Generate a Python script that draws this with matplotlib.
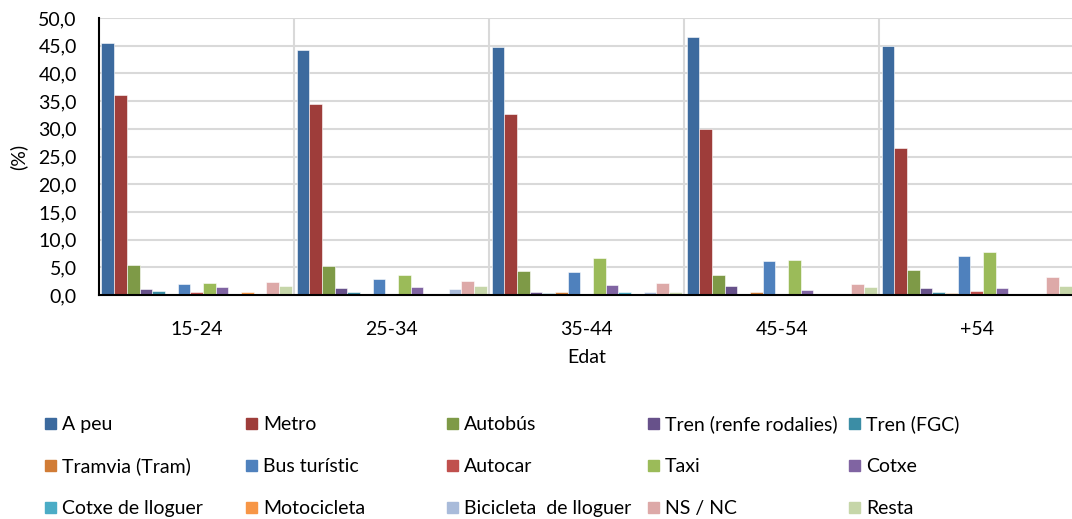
import numpy as np
import matplotlib
matplotlib.use("Agg")
import matplotlib.pyplot as plt
from matplotlib.patches import Rectangle

plt.rcParams['font.family'] = ['Lato', 'DejaVu Sans']

groups = ["15-24", "25-34", "35-44", "45-54", "+54"]

series = ["A peu", "Metro", "Autobús", "Tren (renfe rodalies)", "Tren (FGC)",
          "Tramvia (Tram)", "Bus turístic", "Autocar", "Taxi", "Cotxe",
          "Cotxe de lloguer", "Motocicleta", "Bicicleta  de lloguer", "NS / NC", "Resta"]

colors = ["#3C6A9E", "#9E3D3A", "#7E9A47", "#67518A", "#3B8DA5",
          "#D17C36", "#4F81BD", "#C0504D", "#9BBB59", "#8064A2",
          "#4BACC6", "#F79646", "#A9BBDA", "#DDA9A8", "#C6D6A9"]

# values per series, one per age group (%)
a_peu       = [45.5, 44.3, 44.8, 46.5, 44.9]
metro       = [36.1, 34.5, 32.7, 29.9, 26.5]
autobus     = [5.5, 5.2, 4.4, 3.6, 4.6]
tren_renfe  = [1.1, 1.2, 0.5, 1.7, 1.2]
tren_fgc    = [0.7, 0.5, 0.4, 0.1, 0.5]
tramvia     = [0.0, 0.2, 0.6, 0.5, 0.3]
bus_turistic = [1.9, 2.9, 4.1, 6.1, 7.1]
autocar     = [0.5, 0.2, 0.0, 0.0, 0.7]
taxi        = [2.2, 3.6, 6.6, 6.3, 7.8]
cotxe       = [1.5, 1.5, 1.8, 0.9, 1.2]
cotxe_lloguer = [0.2, 0.1, 0.5, 0.0, 0.0]
moto        = [0.5, 0.0, 0.0, 0.0, 0.0]
bici        = [0.0, 1.1, 0.6, 0.2, 0.0]
ns_nc       = [2.3, 2.5, 2.2, 2.0, 3.3]
resta       = [1.6, 1.7, 0.5, 1.5, 1.6]

values = [a_peu, metro, autobus, tren_renfe, tren_fgc, tramvia, bus_turistic,
          autocar, taxi, cotxe, cotxe_lloguer, moto, bici, ns_nc, resta]

fig = plt.figure(figsize=(10.72, 5.19), dpi=100)
ax = fig.add_axes([0.0924, 0.4316, 0.9096, 0.5337])

x = np.arange(len(groups))
n = len(series)
w = 0.975 / n
for i, (vals, c) in enumerate(zip(values, colors)):
    ax.bar(x - 0.4875 + w * (i + 0.5), vals, width=w, color=c,
           edgecolor='white', linewidth=0.4, zorder=3)

ax.set_xlim(-0.5, 4.5)
ax.set_ylim(0, 50)
ax.set_yticks(np.arange(0, 51, 5))
ax.set_yticklabels([f"{v:.1f}".replace('.', ',') for v in np.arange(0, 51, 5)])
ax.set_xticks(x)
ax.set_xticklabels(groups)
ax.set_xticks(np.arange(0.5, 4.5, 1), minor=True)
ax.tick_params(axis='both', which='both', length=0, labelsize=14, colors='black')
ax.tick_params(axis='x', pad=19)
ax.tick_params(axis='y', pad=16)
ax.grid(axis='y', color='#D9D9D9', linewidth=1.5, zorder=0)
ax.grid(axis='x', which='minor', color='#D9D9D9', linewidth=1.5, zorder=0)
for s in ['top', 'right']:
    ax.spines[s].set_visible(False)
for s in ['left', 'bottom']:
    ax.spines[s].set_linewidth(1.5)
    ax.spines[s].set_color('black')
ax.spines['left'].set_zorder(4)
ax.spines['bottom'].set_zorder(4)
ax.set_ylabel("(%)", fontsize=14, labelpad=8)
ax.set_xlabel("Edat", fontsize=14, labelpad=8)

# legend, 5 columns x 3 rows
col_x = [45, 246, 447, 648, 849]
row_y = [423, 465, 507]
W, H = 1072, 519
for i, (name, c) in enumerate(zip(series, colors)):
    cx = col_x[i % 5]
    cy = row_y[i // 5]
    fig.patches.append(Rectangle((cx / W, 1 - (cy + 5.5) / H), 11 / W, 11 / H,
                                 transform=fig.transFigure, color=c, figure=fig))
    fig.text((cx + 17) / W, 1 - cy / H, name, fontsize=14,
             va='center_baseline', ha='left')

fig.savefig("out.png", dpi=100)
